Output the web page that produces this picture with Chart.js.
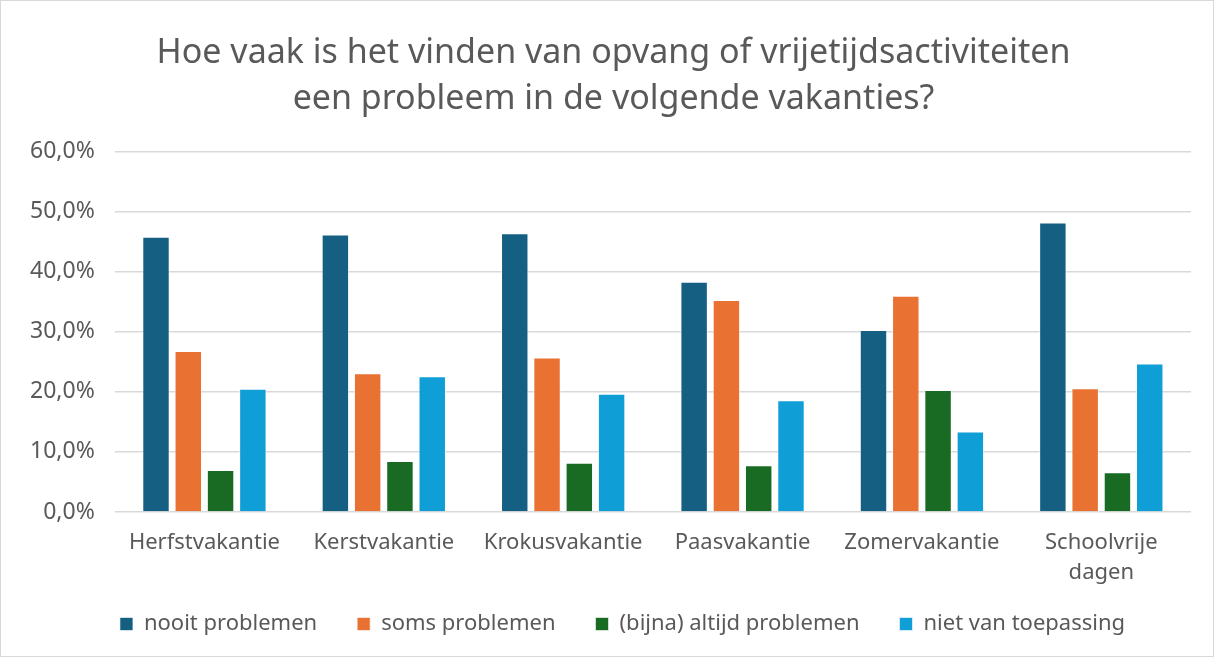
<!DOCTYPE html>
<html><head><meta charset="utf-8">
<script src="https://cdn.jsdelivr.net/npm/chart.js@4/dist/chart.umd.min.js"></script>
<style>
html,body{margin:0;padding:0;background:#fff;}
#wrap{position:relative;width:1212px;height:655px;border:1px solid #d9d9d9;}
</style></head><body>
<div id="wrap"><canvas id="c"></canvas></div>
<script>
const categories = ["Herfstvakantie","Kerstvakantie","Krokusvakantie","Paasvakantie","Zomervakantie",["Schoolvrije","dagen"]];
const nooit = [45.8,46.2,46.4,38.3,30.3,48.2];
const soms = [26.8,23.1,25.7,35.3,36.0,20.6];
const altijd = [7.0,8.5,8.2,7.8,20.3,6.6];
const nvt = [20.5,22.6,19.7,18.6,13.4,24.7];
const seriesNames = ["nooit problemen","soms problemen","(bijna) altijd problemen","niet van toepassing"];
const colors = ["#156082","#E97132","#196B24","#0F9ED5"];
const titleLines = ["Hoe vaak is het vinden van opvang of vrijetijdsactiviteiten","een probleem in de volgende vakanties?"];

const FONT = "'Noto Sans', sans-serif";
const TXT = "#595959";
const LEGEND_SHRINK = 23;
const TITLE_SHIFT = 13;
const LEGEND_SHIFT = 22;
const layoutFix = {
  id: 'layoutFix',
  beforeInit(chart) {
    const lg = chart.legend;
    const orig = lg.fit;
    lg.fit = function() { orig.call(this); this.height -= LEGEND_SHRINK; };
  },
  afterLayout(chart) {
    chart.legend.top -= LEGEND_SHRINK;
    chart.legend.left += LEGEND_SHIFT;
    chart.legend.right += LEGEND_SHIFT;
    if (chart.titleBlock) {
      chart.titleBlock.left += TITLE_SHIFT;
      chart.titleBlock.right += TITLE_SHIFT;
    }
  }
};
const data = {
  labels: categories,
  datasets: [nooit, soms, altijd, nvt].map((d,i)=>({
    label: seriesNames[i], data: d, backgroundColor: colors[i],
    borderColor: "rgba(255,255,255,0.6)", borderWidth: 1,
    categoryPercentage: 0.72, barPercentage: 0.85
  }))
};
new Chart(document.getElementById('c'), {
  type: 'bar',
  data,
  plugins: [layoutFix],
  options: {
    responsive: true, maintainAspectRatio: false, animation: false,
    layout: {padding: {left: 9, right: 22, top: 29, bottom: 11}},
    plugins: {
      title: {display: true, text: titleLines, color: TXT,
        font: {family: FONT, size: 34, weight: 'normal', lineHeight: 1.36},
        padding: {top: 0, bottom: 29}},
      legend: {position: 'bottom',
        labels: {color: TXT, font: {family: FONT, size: 22}, boxWidth: 13, boxHeight: 13, padding: 40}},
      tooltip: {enabled: false}
    },
    scales: {
      x: {grid: {display: false}, border: {display: false},
        ticks: {color: TXT, font: {family: FONT, size: 22, lineHeight: '30px'}, padding: 8}},
      y: {min: 0, max: 60, grid: {color: "#d9d9d9", lineWidth: 1.5, drawTicks: false},
        border: {display: false},
        ticks: {stepSize: 10, color: TXT, font: {family: FONT, size: 23}, padding: 20,
          callback: v => v.toFixed(1).replace('.', ',') + '%'}}
    }
  }
});
</script></body></html>
